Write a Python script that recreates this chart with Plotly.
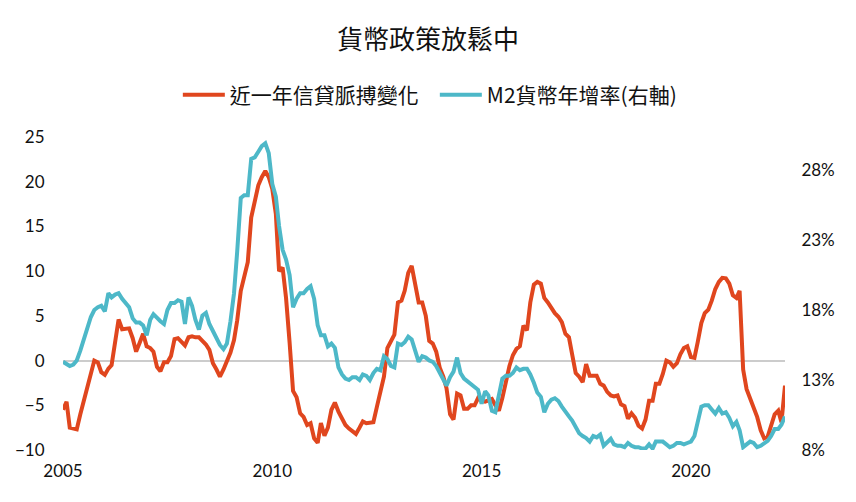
import pandas as pd
import plotly.graph_objects as go

# monthly data, Jan 2005 onward
credit_impulse = [
    -5.5, -4.6, -7.5, -7.6, -7.7, -6.0, -4.5, -3.2, -1.5, 0.0, -0.2, -1.3,
    -1.6, -0.9, -0.5, 2.5, 4.6, 3.5, 3.6, 3.6, 2.5, 1.0, 2.0, 3.0,
    1.6, 1.4, 1.0, -0.7, -1.2, -0.2, -0.2, 0.5, 2.4, 2.5, 2.1, 1.7,
    2.6, 2.7, 2.6, 2.6, 2.2, 1.8, 1.2, -0.3, -1.0, -1.8, -1.0, 0.0,
    0.9, 2.3, 4.5, 7.8, 9.6, 11.0, 16.0, 17.6, 19.6, 20.5, 21.2, 20.5,
    19.2, 16.4, 10.0, 10.4, 7.0, 2.0, -3.4, -4.1, -5.9, -6.3, -7.2, -7.0,
    -8.7, -9.2, -7.0, -8.4, -7.5, -5.5, -4.7, -5.7, -6.6, -7.2, -7.6, -7.9,
    -8.2, -7.5, -6.8, -7.0, -7.0, -6.9, -5.2, -3.3, -1.8, 1.4, 2.2, 2.9,
    6.5, 6.7, 7.8, 9.8, 10.6, 8.7, 6.5, 6.5, 5.0, 2.2, 1.9, 1.0,
    -0.8, -1.8, -3.1, -6.0, -6.6, -3.7, -3.9, -5.4, -5.4, -5.0, -5.0, -4.2,
    -4.5, -4.6, -4.5, -4.3, -5.0, -5.6, -4.2, -2.2, -0.6, 0.6, 1.3, 1.6,
    3.9, 3.4, 6.5, 8.5, 8.8, 8.6, 7.0, 6.5, 5.8, 5.3, 4.9, 4.3,
    3.0, 2.6, 0.7, -1.4, -1.8, -2.4, -0.4, -1.7, -1.7, -1.7, -2.6, -2.8,
    -3.5, -3.9, -4.0, -3.9, -4.9, -5.1, -6.5, -5.9, -6.4, -7.3, -7.6, -6.6,
    -4.5, -4.5, -2.6, -2.6, -1.5, 0.0, -0.2, -0.7, -0.3, 0.7, 1.4, 1.6,
    0.4, 0.3, 2.1, 4.2, 5.3, 5.7, 6.7, 8.0, 8.8, 9.25, 9.2, 8.6,
    7.3, 7.0, 7.8, -1.0, -3.2, -4.2, -5.0, -6.3, -7.8, -8.7, -8.5, -7.4,
    -6.0, -5.6, -6.9, -2.8,
]

m2_growth = [
    14.3, 14.1, 14.0, 14.1, 14.4, 15.1, 15.9, 16.6, 17.5, 18.0, 18.2, 18.3,
    17.9, 19.2, 18.9, 19.1, 19.2, 18.8, 18.5, 18.2, 17.4, 17.1, 17.1, 16.9,
    16.2, 17.3, 17.7, 17.4, 17.2, 17.0, 18.0, 18.5, 18.5, 18.7, 18.6, 17.0,
    18.9, 18.3, 17.3, 16.6, 17.6, 17.8, 17.0, 16.5, 16.0, 15.5, 15.2, 15.6,
    17.2, 19.2, 22.2, 26.0, 26.2, 26.2, 28.8, 28.9, 29.3, 29.7, 29.9, 29.2,
    27.0, 26.1, 24.0, 22.3, 21.6, 20.5, 18.2, 18.8, 19.2, 19.2, 19.5, 19.7,
    18.8, 16.9, 16.2, 16.2, 15.4, 15.6, 15.3, 13.9, 13.4, 13.1, 13.0, 13.2,
    13.2, 13.0, 13.4, 13.3, 13.0, 13.5, 13.8, 13.7, 14.7, 14.5, 14.0, 13.9,
    15.6, 15.5, 15.7, 16.1, 15.9, 15.0, 14.3, 14.7, 14.6, 14.4, 14.3, 14.0,
    13.5, 13.1, 12.6, 13.2, 13.6, 14.6, 13.5, 13.1, 12.9, 12.7, 12.5, 12.3,
    11.3, 12.2, 11.9, 10.8, 10.7, 12.0, 13.1, 13.3, 13.3, 13.5, 13.9, 13.7,
    13.8, 13.8, 13.4, 12.8, 12.1, 11.8, 10.7, 11.3, 11.6, 11.7, 11.5, 11.1,
    10.8, 10.4, 10.1, 9.6, 9.2, 9.0, 8.85, 8.6, 9.0, 8.9, 9.1, 8.3,
    8.6, 8.8, 8.4, 8.3, 8.3, 8.2, 8.5, 8.3, 8.2, 8.2, 8.1, 8.1,
    8.4, 8.1, 8.6, 8.6, 8.6, 8.4, 8.2, 8.3, 8.5, 8.5, 8.4, 8.5,
    8.6, 9.0, 10.1, 11.1, 11.2, 11.2, 10.9, 10.6, 11.0, 10.6, 10.7, 10.3,
    9.7, 10.0, 9.4, 8.2, 8.4, 8.6, 8.5, 8.2, 8.3, 8.5, 8.65, 9.0,
    9.5, 9.5, 9.8, 10.4,
]

right_ticks = [8, 13, 18, 23, 28]

dates = pd.date_range("2005-01-01", periods=len(credit_impulse), freq="MS")

RED = "#E0461E"
TEAL = "#4DB8C8"
FONT = "Lato, Noto Sans CJK TC, sans-serif"
CLEAR = "rgba(0,0,0,0)"

fig = go.Figure()
fig.add_trace(go.Scatter(x=dates, y=credit_impulse, name="近一年信貸脈搏變化",
                         mode="lines", line=dict(color=RED, width=4)))
fig.add_trace(go.Scatter(x=dates, y=m2_growth, name="M2貨幣年增率(右軸)", yaxis="y2",
                         mode="lines", line=dict(color=TEAL, width=4)))

fig.update_layout(
    width=856, height=502,
    paper_bgcolor="white", plot_bgcolor="white",
    font=dict(family=FONT, size=17, color="#111"),
    margin=dict(l=63, r=71, t=137, b=52, autoexpand=False),
    title=dict(text="貨幣政策放鬆中", x=0.5, xanchor="center", y=0.92, yanchor="middle",
               font=dict(family="Noto Sans CJK TC", size=26, color="#111")),
    legend=dict(orientation="h", x=0.515, xanchor="center", y=1.134, yanchor="middle",
                font=dict(family="Noto Sans CJK TC", size=21, color="#111"),
                itemwidth=42, tracegroupgap=0, entrywidth=200),
    showlegend=True,
)
fig.update_xaxes(range=[dates[0], dates[-1]], tickformat="%Y", dtick="M60",
                 tick0="2005-01-01", showgrid=False, zeroline=False, showline=False,
                 ticks="outside", ticklen=6, tickcolor=CLEAR, automargin=False)
fig.update_layout(
    yaxis=dict(range=[-10, 25], tickvals=[-10, -5, 0, 5, 10, 15, 20, 25],
               showgrid=False, zeroline=True, zerolinecolor="#cccccc", zerolinewidth=2,
               showline=False, ticks="outside", ticklen=14, tickcolor=CLEAR,
               automargin=False),
    yaxis2=dict(range=[8, 8 + 313 / 14], overlaying="y", side="right",
                tickvals=right_ticks, ticktext=[f"{v}%" for v in right_ticks],
                showgrid=False, zeroline=False, showline=False,
                ticks="outside", ticklen=12, tickcolor=CLEAR, automargin=False),
)

# drop the page's default body margin so the figure sits at the window origin
fig.write_html("out.html", config={"displayModeBar": False},
               post_script="document.body.style.margin='0';")
